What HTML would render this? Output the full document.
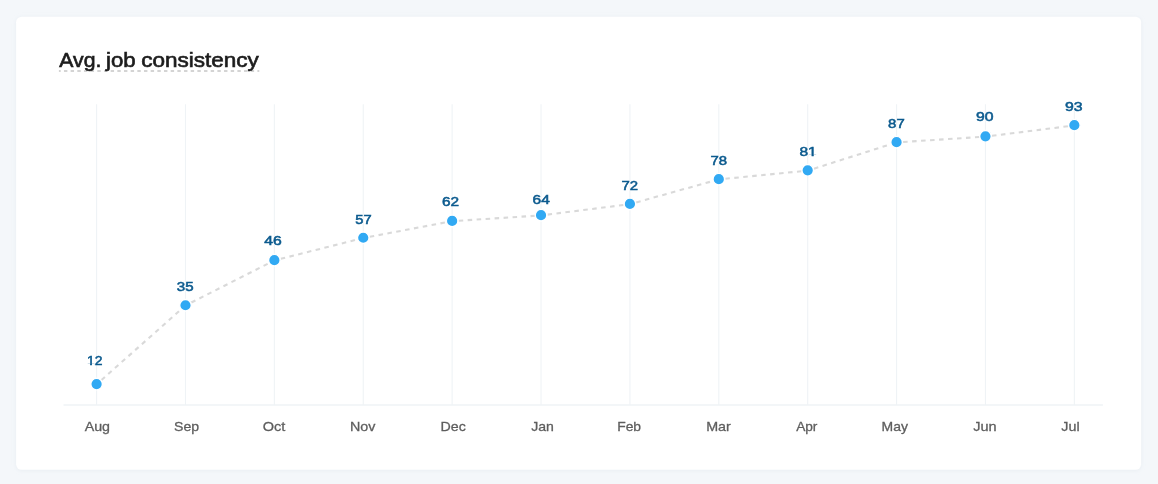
<!DOCTYPE html>
<html lang="en">
<head>
<meta charset="utf-8">
<title>Avg. job consistency</title>
<style>
html,body{margin:0;padding:0;}
body{width:1158px;height:484px;background:#f4f7fa;overflow:hidden;font-family:"Liberation Sans",Arial,sans-serif;position:relative;}
svg{position:absolute;left:0;top:0;}
.t text{font-size:19.5px;font-weight:400;fill:#1c1c1c;stroke:#1c1c1c;stroke-width:0.62px;}
.v{font-size:13.3px;font-weight:400;fill:#0b5a8e;stroke:#0b5a8e;stroke-width:0.55px;text-anchor:middle;}
.m{font-size:13.6px;font-weight:400;fill:#5e5e5e;stroke:#5e5e5e;stroke-width:0.3px;text-anchor:middle;}
</style>
</head>
<body>
<svg width="1158" height="484" viewBox="0 0 1158 484" font-family="'Liberation Sans',Arial,sans-serif">
<defs><filter id="sh" x="-5%" y="-5%" width="110%" height="110%"><feDropShadow dx="0" dy="0.6" stdDeviation="2" flood-color="#b9c6d4" flood-opacity="0.22"/></filter>
<clipPath id="c12"><path clip-rule="evenodd" d="M-20-20H20V10H-20Z M-7.3-1.65H-4.32V2.5H-7.3Z M-2.6-1.65H0.1V2.5H-2.6Z"/></clipPath>
<clipPath id="c81"><path clip-rule="evenodd" d="M-20-20H20V10H-20Z M0.2-1.65H3.07V2.5H0.2Z M4.79-1.65H7.9V2.5H4.79Z"/></clipPath>
</defs>
<rect x="16.1" y="16.7" width="1125" height="453.1" rx="5.6" fill="#fff" filter="url(#sh)"/>
<line x1="58.9" y1="71" x2="259.3" y2="71" stroke="#d4d4d4" stroke-width="1.9" stroke-dasharray="3.4 3.27" stroke-dashoffset="1.6"/>
<g stroke="#eff3f6" stroke-width="1.11">
<line x1="96.6" y1="104.2" x2="96.6" y2="405"/>
<line x1="185.49" y1="104.2" x2="185.49" y2="405"/>
<line x1="274.37" y1="104.2" x2="274.37" y2="405"/>
<line x1="363.26" y1="104.2" x2="363.26" y2="405"/>
<line x1="452.14" y1="104.2" x2="452.14" y2="405"/>
<line x1="541.03" y1="104.2" x2="541.03" y2="405"/>
<line x1="629.92" y1="104.2" x2="629.92" y2="405"/>
<line x1="718.8" y1="104.2" x2="718.8" y2="405"/>
<line x1="807.69" y1="104.2" x2="807.69" y2="405"/>
<line x1="896.57" y1="104.2" x2="896.57" y2="405"/>
<line x1="985.46" y1="104.2" x2="985.46" y2="405"/>
<line x1="1074.35" y1="104.2" x2="1074.35" y2="405"/>
</g>
<line x1="63.5" y1="405" x2="1102.9" y2="405" stroke="#eff3f6" stroke-width="1.3"/>
<g fill="none" stroke="#d9d9d9" stroke-width="2.1" stroke-dasharray="4.55 4.45" stroke-dashoffset="-6.55" transform="translate(0 0.25)">
<line x1="96.6" y1="384.1" x2="185.49" y2="305.26"/>
<line x1="185.49" y1="305.26" x2="274.37" y2="260.16"/>
<line x1="274.37" y1="260.16" x2="363.26" y2="237.76"/>
<line x1="363.26" y1="237.76" x2="452.14" y2="220.9"/>
<line x1="452.14" y1="220.9" x2="541.03" y2="215.16"/>
<line x1="541.03" y1="215.16" x2="629.92" y2="203.9"/>
<line x1="629.92" y1="203.9" x2="718.8" y2="179.17"/>
<line x1="718.8" y1="179.17" x2="807.69" y2="170.37"/>
<line x1="807.69" y1="170.37" x2="896.57" y2="142.17"/>
<line x1="896.57" y1="142.17" x2="985.46" y2="136.37"/>
<line x1="985.46" y1="136.37" x2="1074.35" y2="125.17"/>
</g>
<g fill="#31a9f3" stroke="#fff" stroke-width="1.4">
<circle cx="96.6" cy="384.1" r="5.8"/>
<circle cx="185.49" cy="305.26" r="5.8"/>
<circle cx="274.37" cy="260.16" r="5.8"/>
<circle cx="363.26" cy="237.76" r="5.8"/>
<circle cx="452.14" cy="220.9" r="5.8"/>
<circle cx="541.03" cy="215.16" r="5.8"/>
<circle cx="629.92" cy="203.9" r="5.8"/>
<circle cx="718.8" cy="179.17" r="5.8"/>
<circle cx="807.69" cy="170.37" r="5.8"/>
<circle cx="896.57" cy="142.17" r="5.8"/>
<circle cx="985.46" cy="136.37" r="5.8"/>
<circle cx="1074.35" cy="125.17" r="5.8"/>
</g>
<g class="t">
<text transform="translate(59.28 66.6) scale(1.088 1)">Avg.</text>
<text transform="translate(106.05 66.6) scale(1.140 1)">job</text>
<text transform="translate(141.18 66.6) scale(1.155 1)">consistency</text>
</g>
<text class="v" clip-path="url(#c12)" transform="translate(94.64 365.45) scale(1.044 1)">12</text>
<text class="v" transform="translate(185.14 291.15) scale(1.137 1)">35</text>
<text class="v" transform="translate(272.94 245.15) scale(1.186 1)">46</text>
<text class="v" transform="translate(363.46 223.85) scale(1.107 1)">57</text>
<text class="v" transform="translate(450.50 206.19) scale(1.157 1)">62</text>
<text class="v" transform="translate(541.18 203.59) scale(1.166 1)">64</text>
<text class="v" transform="translate(629.75 190.20) scale(1.121 1)">72</text>
<text class="v" transform="translate(718.75 165.19) scale(1.121 1)">78</text>
<text class="v" clip-path="url(#c81)" transform="translate(808.06 156.39) scale(1.166 1)">81</text>
<text class="v" transform="translate(896.39 128.39) scale(1.121 1)">87</text>
<text class="v" transform="translate(984.82 120.59) scale(1.186 1)">90</text>
<text class="v" transform="translate(1073.75 111.19) scale(1.193 1)">93</text>
<text class="m" transform="translate(97.35 431.2) scale(1.048 1)">Aug</text>
<text class="m" transform="translate(186.62 431.2) scale(1.037 1)">Sep</text>
<text class="m" transform="translate(274.10 431.2) scale(1.070 1)">Oct</text>
<text class="m" transform="translate(362.72 431.2) scale(1.051 1)">Nov</text>
<text class="m" transform="translate(453.16 431.2) scale(1.045 1)">Dec</text>
<text class="m" transform="translate(542.54 431.2) scale(1.035 1)">Jan</text>
<text class="m" transform="translate(629.12 431.2) scale(1.020 1)">Feb</text>
<text class="m" transform="translate(718.52 431.2) scale(1.053 1)">Mar</text>
<text class="m" transform="translate(806.78 431.2) scale(1.007 1)">Apr</text>
<text class="m" transform="translate(894.74 431.2) scale(1.028 1)">May</text>
<text class="m" transform="translate(984.95 431.2) scale(1.068 1)">Jun</text>
<text class="m" transform="translate(1070.47 431.2) scale(1.055 1)">Jul</text>
</svg>
</body>
</html>
